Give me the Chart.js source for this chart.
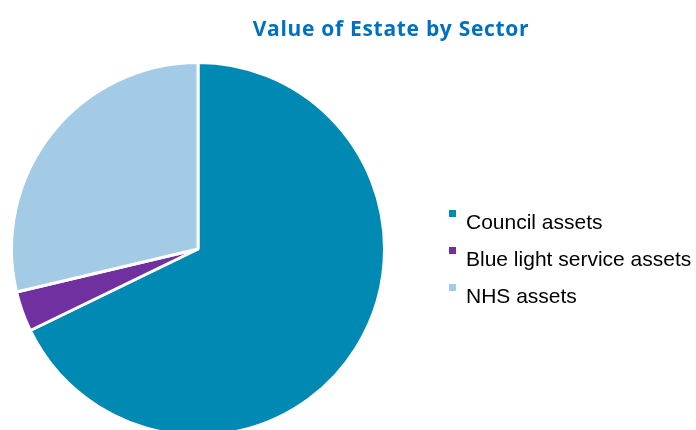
<!DOCTYPE html>
<html>
<head>
<meta charset="utf-8">
<script src="https://cdn.jsdelivr.net/npm/chart.js@4"></script>
<style>
  html, body { margin:0; padding:0; background:#fff; overflow:hidden; }
  #wrap { width:696px; height:430px; overflow:hidden; }
</style>
</head>
<body>
<div id="wrap"><canvas id="grafico" width="696" height="480"></canvas></div>
<script>
"use strict";

/* dados */
const titulo = "Value of Estate by Sector";
const setores = ["Council assets", "Blue light service assets", "NHS assets"];
const valores = [67.8, 3.5, 28.7];
const cores = ["#0089b2", "#7030a0", "#a3cbe6"];

/* titulo e legenda desenhados a mao */
const extras = {
    id: "extras",
    afterDraw(chart){
        const ctx = chart.ctx;
        ctx.save();

        ctx.fillStyle = "#0070c0";
        ctx.font = "bold 21px 'Open Sans'";
        ctx.letterSpacing = "0.7px";
        ctx.textAlign = "center";
        ctx.textBaseline = "alphabetic";
        ctx.fillText(titulo, 391, 36);
        ctx.letterSpacing = "0px";

        ctx.font = "21px 'Liberation Sans'";
        ctx.textAlign = "left";
        const labels = chart.data.labels;
        const bg = chart.data.datasets[0].backgroundColor;
        labels.forEach(function(txt, i){
            const y = 229 + i * 37;
            ctx.fillStyle = bg[i];
            ctx.fillRect(449, y - 19, 7, 7);
            ctx.fillStyle = "#000";
            ctx.fillText(txt, 466, y);
        });

        ctx.restore();
    }
};

new Chart(document.getElementById("grafico"), {
    type: "pie",
    data: {
        labels: setores,
        datasets: [{
            data: valores,
            backgroundColor: cores,
            borderColor: "#ffffff",
            borderWidth: 3
        }]
    },
    options: {
        responsive: false,
        animation: false,
        layout: {
            padding: { left: 10, top: 61, right: 310, bottom: 43 }
        },
        plugins: {
            legend: { display: false },
            tooltip: { enabled: false }
        }
    },
    plugins: [extras]
});
</script>
</body>
</html>
